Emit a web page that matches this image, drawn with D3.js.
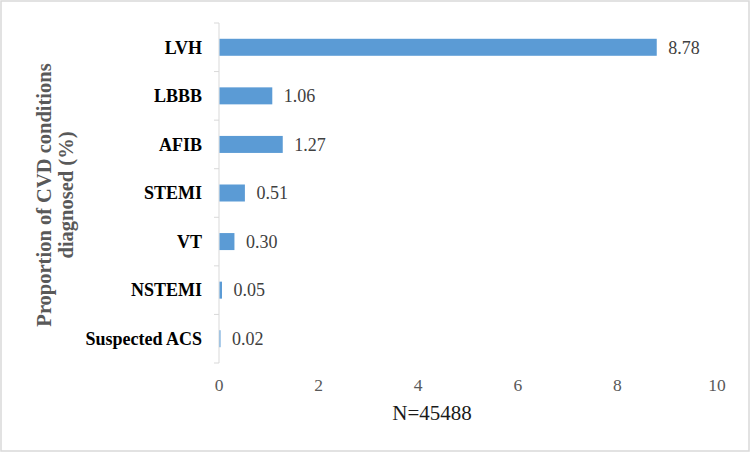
<!DOCTYPE html>
<html>
<head>
<meta charset="utf-8">
<script src="https://cdn.jsdelivr.net/npm/d3@7"></script>
<style>
  html, body { margin: 0; padding: 0; background: #fff; }
  svg { display: block; font-family: "Liberation Serif", "Times New Roman", serif; }
</style>
</head>
<body>
<svg id="chart" width="750" height="452"></svg>
<script>
// data
const categories = ['LVH', 'LBBB', 'AFIB', 'STEMI', 'VT', 'NSTEMI', 'Suspected ACS'];
const values = [8.78, 1.06, 1.27, 0.51, 0.30, 0.05, 0.02];
const xTicks = [0, 2, 4, 6, 8, 10];
const xLabel = 'N=45488';
const yTitle = ['Proportion of CVD conditions', 'diagnosed (%)'];

const W = 750, H = 452;
const m = { t: 23, r: 33, b: 89, l: 219 };
const svg = d3.select('#chart');

// outer border
svg.append('rect')
  .attr('x', 1).attr('y', 1).attr('width', W - 2).attr('height', H - 2)
  .attr('fill', '#fff').attr('stroke', '#d9d9d9').attr('stroke-width', 1.5);

const x = d3.scaleLinear().domain([0, 10]).range([m.l, W - m.r]);
const y = d3.scaleBand().domain(categories).range([m.t, H - m.b]).paddingInner(0.65).paddingOuter(0.325);
const band = d3.scaleBand().domain(categories).range([m.t, H - m.b]);

// y axis line + ticks at band boundaries
const axisColor = '#d9d9d9';
svg.append('line')
  .attr('x1', x(0)).attr('x2', x(0))
  .attr('y1', m.t).attr('y2', H - m.b)
  .attr('stroke', axisColor).attr('stroke-width', 1);

const bounds = categories.map(c => band(c)).concat([H - m.b]);
svg.append('g').selectAll('line')
  .data(bounds)
  .join('line')
    .attr('x1', x(0) - 5).attr('x2', x(0))
    .attr('y1', d => d).attr('y2', d => d)
    .attr('stroke', axisColor);

// bars
svg.append('g').selectAll('rect')
  .data(categories)
  .join('rect')
    .attr('x', x(0) + 0.5)
    .attr('y', d => y(d))
    .attr('width', (d, i) => Math.max(0, x(values[i]) - x(0)))
    .attr('height', y.bandwidth())
    .attr('fill', '#5b9bd5');

// value labels
svg.append('g').selectAll('text')
  .data(categories)
  .join('text')
    .attr('x', (d, i) => x(values[i]) + 12)
    .attr('y', d => y(d) + y.bandwidth() / 2)
    .attr('dy', '0.35em')
    .attr('font-size', 18)
    .attr('fill', '#404040')
    .text((d, i) => values[i].toFixed(2));

// category labels
svg.append('g').selectAll('text')
  .data(categories)
  .join('text')
    .attr('x', x(0) - 17)
    .attr('y', d => band(d) + band.bandwidth() / 2)
    .attr('dy', '0.35em')
    .attr('text-anchor', 'end')
    .attr('font-size', 18)
    .attr('font-weight', 'bold')
    .attr('fill', '#000')
    .text(d => d);

// x tick labels
svg.append('g').selectAll('text')
  .data(xTicks)
  .join('text')
    .attr('x', d => x(d))
    .attr('y', 391)
    .attr('text-anchor', 'middle')
    .attr('font-size', 17.5)
    .attr('fill', '#595959')
    .text(d => d);

// x label
svg.append('text')
  .attr('x', 432).attr('y', 420)
  .attr('text-anchor', 'middle')
  .attr('font-size', 21)
  .attr('fill', '#1a1a1a')
  .text(xLabel);

// y title
const yt = svg.append('text')
  .attr('transform', 'translate(0,195) rotate(-90)')
  .attr('text-anchor', 'middle')
  .attr('font-size', 20.5)
  .attr('font-weight', 'bold')
  .attr('fill', '#595959');
yt.selectAll('tspan')
  .data(yTitle)
  .join('tspan')
    .attr('x', 0)
    .attr('y', (d, i) => 51 + i * 22)
    .text(d => d);
</script>
</body>
</html>
